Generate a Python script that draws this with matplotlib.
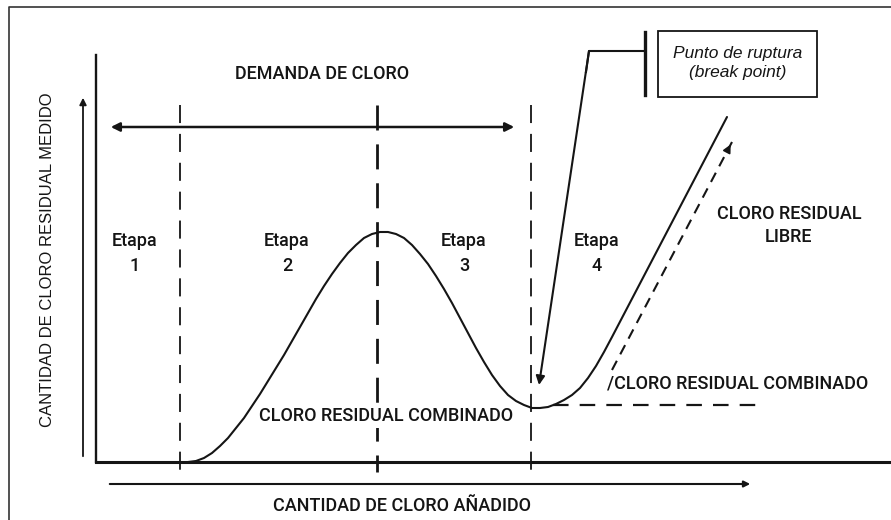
import matplotlib
matplotlib.use("Agg")
import matplotlib.pyplot as plt
from matplotlib.patches import Rectangle

plt.rcParams['font.family'] = ['Roboto', 'Liberation Sans', 'DejaVu Sans']

# ---- data (units: chlorine added on x, measured residual on y) ----
curve_x = [0.92, 1.00, 1.08, 1.16, 1.24, 1.32, 1.40, 1.48, 1.56, 1.64, 1.72, 1.80, 1.88,
           1.96, 2.04, 2.12, 2.20, 2.28, 2.36, 2.44, 2.52, 2.60, 2.68, 2.76, 2.84, 2.92,
           3.00, 3.08, 3.16, 3.24, 3.32, 3.40, 3.48, 3.56, 3.64, 3.72, 3.80, 3.88, 3.96,
           4.04, 4.12, 4.20, 4.28, 4.36, 4.44, 4.52, 4.60, 4.68, 4.76, 4.84, 4.92, 5.00,
           5.08, 5.16, 6.31]
curve_y = [0.00, 0.01, 0.04, 0.09, 0.16, 0.24, 0.34, 0.44, 0.56, 0.68, 0.81, 0.94, 1.07,
           1.21, 1.35, 1.49, 1.63, 1.76, 1.88, 1.99, 2.09, 2.17, 2.24, 2.28, 2.30, 2.30,
           2.28, 2.24, 2.17, 2.08, 1.98, 1.86, 1.73, 1.59, 1.44, 1.29, 1.14, 1.00, 0.87,
           0.76, 0.67, 0.61, 0.57, 0.54, 0.54, 0.55, 0.58, 0.62, 0.67, 0.74, 0.84, 0.96,
           1.10, 1.25, 3.45]

stage_bounds = [0.84, 2.81, 4.35]
stage_names = ["Etapa\n1", "Etapa\n2", "Etapa\n3", "Etapa\n4"]
stage_label_x = [0.39, 1.91, 3.68, 5.01]

combined_flat_x = [4.57, 6.69]
combined_flat_y = [0.57, 0.57]
combined_rise_x = [5.16, 6.36]
combined_rise_y = [0.92, 3.20]

demand_span = [0.12, 4.21]
breakpoint_xy = (4.43, 0.77)

fig = plt.figure(figsize=(8.91, 5.20), dpi=100)
ax = fig.add_axes([0, 0, 1, 1])
ax.set_xlim(-0.96, 7.95)
ax.set_ylim(-0.58, 4.62)
ax.axis('off')

ink = '#151515'

# outer frame (left and top visible)
ax.plot([-0.87, -0.87, 8.1], [-0.7, 4.55, 4.55], color='#333333', lw=1.2, solid_capstyle='butt')

# axes lines
ax.plot([0, 0], [0, 4.07], color=ink, lw=1.7)
ax.plot([0, 7.95], [0, 0], color=ink, lw=2.2)

# y arrow
ax.annotate('', xy=(-0.13, 3.67), xytext=(-0.13, 0.03),
            arrowprops=dict(arrowstyle='-|>', color=ink, lw=1.3, mutation_scale=10))
# x arrow
ax.annotate('', xy=(6.57, -0.22), xytext=(0.11, -0.22),
            arrowprops=dict(arrowstyle='-|>', color=ink, lw=1.5, mutation_scale=9))

# demand arrow
ax.annotate('', xy=(demand_span[1], 3.35), xytext=(demand_span[0], 3.35),
            arrowprops=dict(arrowstyle='<|-|>', color=ink, lw=1.8, mutation_scale=13))

# stage boundaries
for i, xb in enumerate(stage_bounds):
    ax.plot([xb, xb], [3.57, -0.10], color=ink, lw=2.0 if i == 1 else 1.3,
            dashes=(9, 5) if i == 1 else (10, 6), zorder=1)

# main curve
ax.plot(curve_x, curve_y, color=ink, lw=1.5, solid_joinstyle='round',
        solid_capstyle='round', zorder=3)

# combined residual dashed lines
ax.plot(combined_flat_x, combined_flat_y, color=ink, lw=1.6, dashes=(7, 5))
ax.plot(combined_rise_x, combined_rise_y, color=ink, lw=1.5, dashes=(5, 3.5))
ax.annotate('', xy=(combined_rise_x[1], combined_rise_y[1]),
            xytext=(combined_rise_x[1] - 0.06, combined_rise_y[1] - 0.114),
            arrowprops=dict(arrowstyle='-|>', color=ink, lw=1.2, mutation_scale=12))

# break-point callout
ax.plot([5.49, 4.93, 4.90], [4.11, 4.11, 3.90], color=ink, lw=1.5)
ax.annotate('', xy=breakpoint_xy, xytext=(4.93, 4.11),
            arrowprops=dict(arrowstyle='-|>', color=ink, lw=1.5, mutation_scale=13,
                            shrinkA=0, shrinkB=0))
ax.plot([5.49, 5.49], [3.67, 4.30], color=ink, lw=2.4)
ax.add_patch(Rectangle((5.62, 3.65), 1.59, 0.66, fill=False, edgecolor=ink, lw=1.3))
ax.text(6.415, 4.09, "Punto de ruptura", ha='center', va='center', fontsize=12.5,
        style='italic', color=ink, family=['Liberation Sans', 'DejaVu Sans'])
ax.text(6.415, 3.90, "(break point)", ha='center', va='center', fontsize=12.5,
        style='italic', color=ink, family=['Liberation Sans', 'DejaVu Sans'])

# texts
fs = 13
fw = 'medium'
ax.text(2.26, 3.88, "DEMANDA DE CLORO", ha='center', va='center', fontsize=fs,
        color=ink, fontweight=fw)
for name, xl in zip(stage_names, stage_label_x):
    ax.text(xl, 2.085, name, ha='center', va='center', fontsize=fs, color=ink,
            linespacing=1.45, fontweight=fw)
ax.text(2.90, 0.46, "CLORO RESIDUAL COMBINADO", ha='center', va='center', fontsize=fs,
        color=ink, fontweight=fw, zorder=2,
        bbox=dict(boxstyle='square,pad=0.15', facecolor='white', edgecolor='none'))
ax.text(5.11, 0.79, "/CLORO RESIDUAL COMBINADO", ha='left', va='center', fontsize=fs,
        color=ink, fontweight=fw)
ax.text(6.93, 2.365, "CLORO RESIDUAL\nLIBRE", ha='center', va='center', fontsize=fs,
        color=ink, linespacing=1.4, fontweight=fw)
ax.text(3.06, -0.44, "CANTIDAD DE CLORO AÑADIDO", ha='center', va='center', fontsize=fs,
        color=ink, fontweight=fw)
ax.text(-0.48, 2.02, "CANTIDAD DE CLORO RESIDUAL MEDIDO", ha='center', va='center',
        fontsize=12, rotation=90, color=ink, family=['Liberation Sans', 'DejaVu Sans'])

fig.savefig("out.png", dpi=100)
